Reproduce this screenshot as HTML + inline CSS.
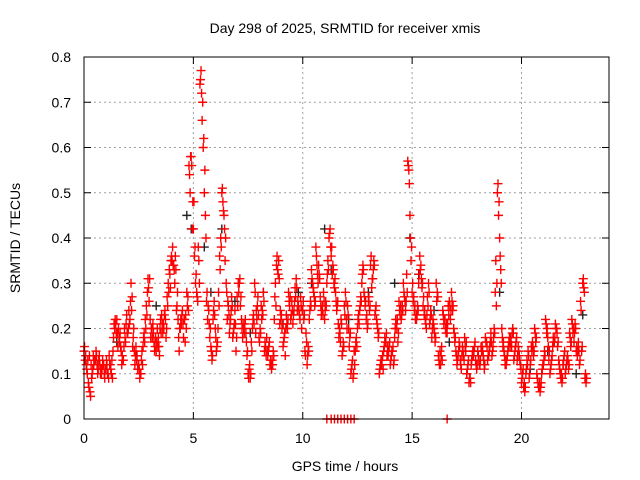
<!DOCTYPE html>
<html><head><meta charset="utf-8"><style>
body{margin:0;background:#fff;}
svg{display:block;font-family:"Liberation Sans",sans-serif;}
</style></head><body>
<svg id="chart" width="640" height="480">
<rect width="640" height="480" fill="#fff"/>
<text x="345" y="33" font-size="14" text-anchor="middle" fill="#000">Day 298 of 2025, SRMTID for receiver xmis</text>
<text transform="translate(20,238) rotate(-90)" font-size="14" text-anchor="middle">SRMTID / TECUs</text>
<text x="345" y="471" font-size="14" text-anchor="middle">GPS time / hours</text>
<g id="grid"></g>
<g id="ticks"></g>
<g id="marks"></g>
<rect x="84" y="57" width="525" height="362" fill="none" stroke="#000" stroke-width="1"/>
</svg>
<script>
const xTicks=[0,5,10,15,20];
const yTicks=[0,0.1,0.2,0.3,0.4,0.5,0.6,0.7,0.8];
const yTickLabels=["0","0.1","0.2","0.3","0.4","0.5","0.6","0.7","0.8"];
const redA=[
.15,.12,.08,.05,.11,.13,.12,.14,.10,.12,
.11,.10,.12,.09,.20,.22,.18,.15,.13,.17,
.19,.22,.27,.15,.13,.12,.10,.16,.22,.28,
.31,.20,.17,.15,.18,.22,.19,.24,.27,.33,
.36,.34,.33,.22,.20,.24,.22,.28,.56,.58,
.42,.30,.26,.74,.66,.50,.26,.24,.16,.22,
.20,.17,.36,.50,.45,.30,.25,.22,.18,.24,
.27,.30,.22,.20,.19,.10,.09,.20,.30,.22,
.18,.25,.28,.16,.14,.12,.13,.22,.34,.35,
.22,.16,.14,.20,.25,.26,.24,.31,.25,.27,
.24,.15,.12,.22,.33,.28,.38,.30,.27,.25,
.22,.30,.40,.36,.33,.28,.26,.19,.14,.25,
.22,.20,.10,.09,.15,.20,.24,.30,.28,.22,
.26,.34,.31,.23,.21,.10,.12,.15,.17,.14,
.12,.15,.18,.20,.26,.22,.30,.24,.57,.45,
.28,.24,.22,.30,.34,.25,.22,.27,.21,.18,
.20,.30,.14,.12,.24,.22,.19,.26,.28,.20,
.15,.14,.13,.16,.18,.10,.08,.12,.14,.13,
.15,.12,.16,.11,.17,.14,.19,.16,.28,.50,
.40,.20,.15,.12,.16,.18,.20,.15,.13,.14,
.08,.07,.10,.15,.12,.17,.20,.10,.07,.08,
.12,.22,.18,.10,.14,.17,.20,.13,.09,.12,
.10,.14,.19,.22,.17,.15,.17,.26,.30,.09];
const redB=[
.13,.10,.14,.09,.12,.15,.11,.10,.13,.09,
.12,.14,.10,.18,.21,.16,.19,.14,.20,.23,
.24,.30,.18,.14,.11,.09,.15,.19,.25,.29,
.18,.21,.16,.20,.14,.23,.20,.18,.30,.29,
.38,.30,.25,.15,.21,.18,.23,.27,.50,.42,
.36,.28,.35,.77,.60,.45,.22,.18,.13,.26,
.15,.28,.40,.48,.35,.22,.19,.27,.20,.15,
.30,.25,.18,.21,.14,.11,.17,.23,.19,.27,
.20,.24,.15,.18,.16,.12,.15,.30,.33,.21,
.20,.18,.23,.28,.22,.21,.29,.24,.23,.20,
.22,.19,.16,.26,.30,.25,.34,.32,.23,.28,
.26,.35,.42,.32,.29,.24,.18,.22,.17,.28,
.25,.18,.12,.15,.18,.23,.27,.34,.25,.20,
.24,.29,.35,.25,.18,.12,.14,.18,.14,.16,
.14,.12,.22,.17,.23,.25,.27,.32,.55,.35,
.26,.22,.25,.36,.29,.23,.20,.30,.24,.22,
.17,.28,.12,.16,.21,.19,.25,.22,.24,.17,
.12,.17,.11,.14,.15,.12,.09,.14,.16,.11,
.13,.16,.14,.18,.13,.16,.14,.20,.25,.45,
.33,.16,.12,.14,.18,.16,.13,.17,.16,.12,
.10,.06,.13,.09,.16,.14,.17,.08,.06,.11,
.15,.19,.13,.12,.18,.21,.16,.11,.08,.14,
.12,.11,.16,.19,.21,.14,.12,.15,.29,.08];
const redC=[
.16,.11,.07,.12,.14,.13,.10,.12,.11,.10,
.13,.09,.11,.15,.22,.19,.17,.12,.16,.21,
.20,.26,.16,.12,.14,.11,.13,.18,.20,.31,
.22,.18,.15,.17,.16,.19,.21,.22,.25,.32,
.35,.33,.24,.18,.22,.21,.17,.25,.54,.56,
.48,.32,.38,.75,.70,.55,.28,.21,.15,.24,
.18,.20,.33,.51,.42,.28,.23,.24,.19,.21,
.25,.31,.20,.19,.17,.09,.10,.22,.28,.25,
.17,.22,.26,.14,.15,.13,.12,.27,.36,.31,
.23,.17,.20,.22,.27,.24,.26,.29,.24,.25,
.26,.14,.14,.24,.31,.27,.36,.34,.25,.23,
.24,.32,.41,.38,.30,.26,.21,.17,.15,.23,
.20,.16,.11,.10,.17,.22,.25,.32,.27,.23,
.27,.36,.33,.24,.20,.11,.13,.16,.19,.15,
.13,.16,.20,.22,.24,.23,.28,.26,.56,.40,
.30,.25,.23,.32,.31,.27,.21,.25,.22,.20,
.19,.26,.13,.14,.23,.20,.21,.25,.26,.19,
.14,.15,.12,.15,.16,.11,.09,.13,.15,.12,
.14,.13,.15,.12,.16,.15,.17,.18,.35,.52,
.36,.18,.14,.13,.17,.17,.19,.16,.14,.13,
.09,.08,.11,.14,.13,.16,.19,.09,.08,.10,
.13,.21,.16,.11,.16,.18,.19,.12,.10,.13,
.11,.13,.18,.21,.19,.16,.15,.24,.31,.10];
const redD=[
.14,.13,.06,.10,.13,.14,.13,.11,.12,.11,
.10,.12,.13,.21,.19,.20,.16,.13,.18,.19,
.21,.24,.20,.16,.12,.10,.12,.17,.23,.26,
.20,.19,.18,.16,.20,.21,.23,.20,.28,.35,
.34,.36,.28,.20,.23,.22,.20,.24,.58,.48,
.38,.27,.30,.72,.62,.40,.25,.20,.14,.23,
.16,.25,.38,.46,.40,.26,.21,.25,.21,.18,
.28,.27,.21,.22,.15,.12,.15,.21,.24,.23,
.19,.23,.17,.15,.17,.11,.14,.25,.32,.24,
.21,.19,.21,.26,.23,.23,.27,.26,.22,.24,
.23,.17,.15,.25,.29,.26,.32,.31,.24,.26,
.25,.33,.38,.34,.31,.25,.20,.21,.16,.26,
.23,.19,.13,.12,.16,.21,.26,.33,.26,.21,
.25,.31,.34,.22,.19,.13,.11,.17,.16,.17,
.15,.13,.21,.19,.25,.24,.26,.28,.52,.38,
.27,.23,.24,.33,.30,.24,.23,.28,.23,.21,
.18,.27,.15,.13,.22,.21,.23,.24,.25,.18,
.13,.16,.14,.13,.17,.13,.08,.15,.17,.12,
.12,.15,.13,.17,.14,.17,.15,.19,.30,.48,
.30,.17,.13,.15,.16,.19,.14,.18,.15,.11,
.11,.07,.12,.10,.15,.15,.18,.07,.07,.12,
.14,.20,.15,.13,.17,.20,.17,.10,.09,.15,
.13,.12,.17,.20,.20,.15,.13,.16,.28,.09];
const blackT=[0.6,1.5,2.4,3.3,4.7,4.9,5.5,5.8,6.3,6.9,7.6,8.2,9.1,9.8,10.4,11.0,11.3,12.1,13.0,13.6,14.2,14.9,15.3,16.0,16.7,17.5,18.3,19.0,19.6,20.4,21.2,21.9,22.5,22.8];
const blackV=[.12,.17,.14,.25,.45,.42,.38,.28,.42,.26,.19,.28,.21,.28,.30,.42,.33,.22,.28,.12,.30,.40,.32,.24,.17,.10,.12,.28,.20,.11,.15,.12,.10,.23];
const zeroT=[11.1,11.3,11.45,11.6,11.75,11.9,12.05,12.2,12.35,16.6];
const X0=84,X1=609,Y0=419,Y1=57,XMAX=24,YMAX=0.8;
const sx=t=>X0+(X1-X0)*t/XMAX, sy=v=>Y0-(Y0-Y1)*v/YMAX;
const NS="http://www.w3.org/2000/svg";
function mk(tag,attrs,parent){const e=document.createElementNS(NS,tag);for(const k in attrs)e.setAttribute(k,attrs[k]);parent.appendChild(e);return e;}
const grid=document.getElementById('grid'),ticks=document.getElementById('ticks'),marks=document.getElementById('marks');
yTicks.forEach((v,i)=>{const y=sy(v);
 if(v>0&&v<YMAX){const g=mk('line',{x1:X0,x2:X1,y1:y,y2:y,stroke:'#a0a0a0','stroke-dasharray':'2,3'},grid);
 
 }
 mk('line',{x1:X0,x2:X0+7,y1:y,y2:y,stroke:'#000'},ticks);
 mk('line',{x1:X1-7,x2:X1,y1:y,y2:y,stroke:'#000'},ticks);
 const t=mk('text',{x:X0-13,y:y+5,'font-size':14,'text-anchor':'end'},ticks);t.textContent=yTickLabels[i];
 
 });
xTicks.forEach(v=>{const x=sx(v);
 if(v>0){const g=mk('line',{x1:x,x2:x,y1:Y0,y2:Y1,stroke:'#a0a0a0','stroke-dasharray':'2,3'},grid);
 
 }
 mk('line',{x1:x,x2:x,y1:Y0,y2:Y0-7,stroke:'#000'},ticks);
 mk('line',{x1:x,x2:x,y1:Y1,y2:Y1+7,stroke:'#000'},ticks);
 const t=mk('text',{x:x,y:Y0+24,'font-size':14,'text-anchor':'middle'},ticks);t.textContent=String(v);
 
 });
function plus(t,v,col,name){const x=sx(t),y=sy(v);
 const p=mk('path',{d:`M${x-4.5} ${y}H${x+4.5}M${x} ${y-4.5}V${y+4.5}`,stroke:col,'stroke-width':1.4,fill:'none'},marks);
 
 }
blackT.forEach((t,i)=>plus(t,blackV[i],'#222','black-point'));
redA.forEach((v,i)=>plus(i*0.1,v,'#ff0000','red-point'));
redC.forEach((v,i)=>plus(i*0.1+0.025,v,'#ff0000','red-point'));
redB.forEach((v,i)=>plus(i*0.1+0.05,v,'#ff0000','red-point'));
redD.forEach((v,i)=>plus(i*0.1+0.075,v,'#ff0000','red-point'));
zeroT.forEach(t=>plus(t,0,'#ff0000','zero-point'));
</script>
</body></html>
